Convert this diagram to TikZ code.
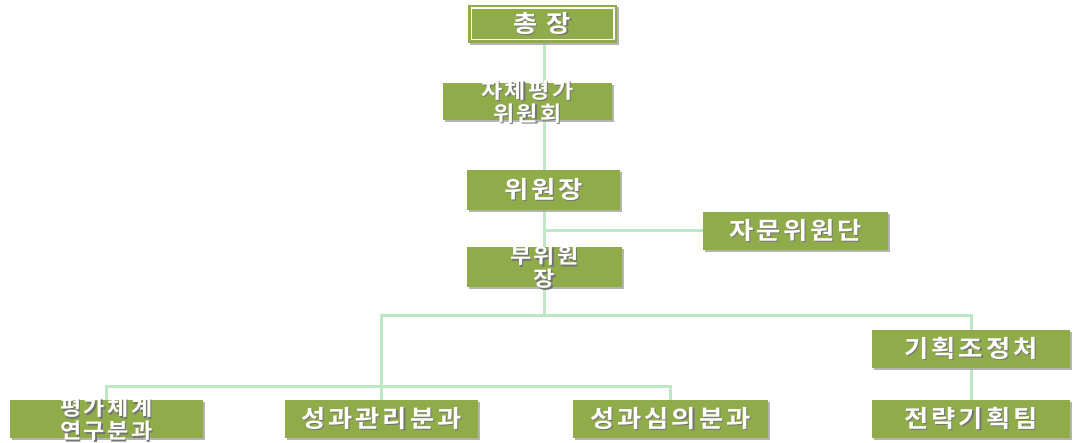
\documentclass[tikz,border=0pt]{standalone}
\usepackage{fontspec}
\newfontfamily\kr[LetterSpace=12,FakeStretch=1.1]{Noto Sans CJK KR Bold}
\usetikzlibrary{shadows,calc}
\pgfdeclarelayer{bg}
\pgfsetlayers{bg,main}
\definecolor{boxgreen}{RGB}{143,171,74}
\definecolor{linegreen}{RGB}{190,232,196}
\definecolor{shadowgray}{RGB}{160,160,160}
\newcommand\shtxt[1]{\leavevmode\rlap{\kern1.2pt\raisebox{-1.2pt}{\textcolor{black!55}{#1}}}\textcolor{white}{#1}}
\newcommand\twol[2]{\raisebox{-20pt}[0pt][0pt]{\vbox{\baselineskip=21pt\lineskiplimit=-50pt\halign{\hfil##\hfil\cr\shtxt{#1}\cr\noalign{\vskip2pt}\shtxt{#2}\cr}}}}
\tikzset{
  orgbox/.style={fill=boxgreen, inner sep=0pt,
    font=\kr\fontsize{24}{24}\selectfont, align=center,
    drop shadow={shadow xshift=1.5pt, shadow yshift=-2pt, fill=shadowgray, opacity=0.8}},
  twoline/.style={font=\kr\fontsize{21}{21}\selectfont},
  conn/.style={draw=linegreen, line width=3pt, line cap=rect}
}
\begin{document}
\begin{tikzpicture}[x=1pt,y=-1pt]
\useasboundingbox (0,0) rectangle (1074,443);
\coordinate (spine) at (544,0);
\coordinate (hbar) at (0,316);
\coordinate (lbar) at (0,387);

\node[orgbox, minimum width=149pt, minimum height=38pt] (top) at (542.5,24) {\shtxt{총 장}};
\draw[white, line width=1.6pt] ($(top.south west)+(3.5pt,3.5pt)$) rectangle ($(top.north east)+(-3.5pt,-3.5pt)$);
\node[orgbox, twoline, minimum width=169pt, minimum height=37pt] (self) at (527.5,101.5) {\twol{자체평가}{위원회}};
\node[orgbox, minimum width=153pt, minimum height=40pt] (chair) at (543.5,190) {\shtxt{위원장}};
\node[orgbox, minimum width=185pt, minimum height=38pt] (adv) at (795.5,231) {\shtxt{자문위원단}};
\node[orgbox, twoline, minimum width=155pt, minimum height=40pt] (vice) at (544.5,267) {\twol{부위원}{장}};
\node[orgbox, minimum width=198pt, minimum height=38pt] (plan) at (971,349) {\shtxt{기획조정처}};
\node[orgbox, twoline, minimum width=193pt, minimum height=38pt] (b1) at (106.5,419) {\twol{평가체계}{연구분과}};
\node[orgbox, minimum width=193pt, minimum height=38pt] (b2) at (381.5,419) {\shtxt{성과관리분과}};
\node[orgbox, minimum width=195pt, minimum height=38pt] (b3) at (670.5,419) {\shtxt{성과심의분과}};
\node[orgbox, minimum width=198pt, minimum height=38pt] (b4) at (971,419) {\shtxt{전략기획팀}};

\begin{pgfonlayer}{bg}
\fill[white] (0,0) rectangle (1074,443);
\draw[conn] (top.south -| spine) -- (self.north -| spine);
\draw[conn] (self.south -| spine) -- (chair.north -| spine);
\draw[conn] (chair.south -| spine) -- (vice.north -| spine);
\draw[conn] (adv.west -| spine) -- (adv.west);
\draw[conn] (vice.south -| spine) -- (spine |- hbar);
\draw[conn] (b2.north |- lbar) -- (b2.north |- hbar) -- (plan.north |- hbar) -- (plan.north);
\draw[conn] (b1.north) -- (b1.north |- lbar) -- (b3.north |- lbar) -- (b3.north);
\draw[conn] (b2.north |- lbar) -- (b2.north);
\draw[conn] (plan.south) -- (b4.north);
\end{pgfonlayer}
\end{tikzpicture}
\end{document}
